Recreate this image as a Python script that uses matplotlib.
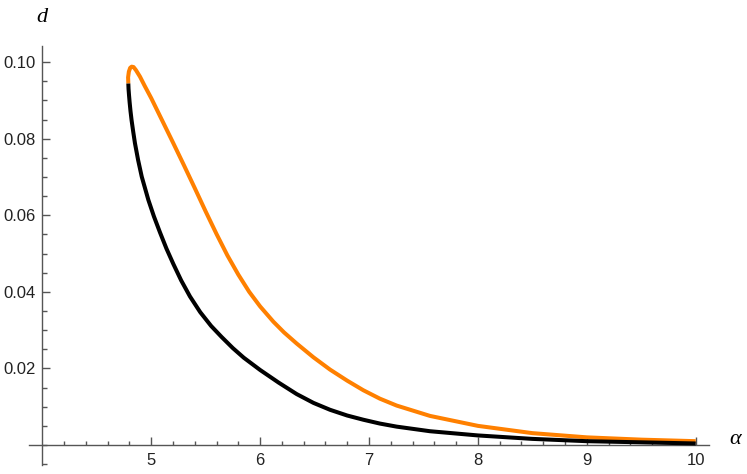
import numpy as np
import matplotlib.pyplot as plt
from matplotlib.ticker import FixedLocator

# points
alpha_black = [4.79, 4.792, 4.796, 4.802, 4.81, 4.82, 4.835, 4.851, 4.88, 4.913, 4.974,
               5.025, 5.081, 5.14, 5.203, 5.275, 5.356, 5.45, 5.55, 5.647, 5.75, 5.85,
               6.0, 6.17, 6.336, 6.49, 6.642, 6.8, 6.948, 7.1, 7.254, 7.56, 8.0, 8.5,
               9.0, 9.5, 10.0]
d_black = [0.0944, 0.0930, 0.0915, 0.0895, 0.0872, 0.0848, 0.0818, 0.0788, 0.0744, 0.0701,
           0.0640, 0.0597, 0.0555, 0.0513, 0.0473, 0.0430, 0.0388, 0.0347, 0.0311, 0.0282,
           0.0253, 0.0228, 0.0196, 0.0163, 0.0133, 0.0110, 0.0092, 0.0077, 0.0066, 0.0056,
           0.0048, 0.0036, 0.0025, 0.0016, 0.0010, 0.0007, 0.0004]

alpha_orange = [4.79, 4.788, 4.795, 4.807, 4.821, 4.838, 4.86, 4.897, 4.94, 5.0, 5.1,
                5.2, 5.3, 5.4, 5.5, 5.6, 5.7, 5.8, 5.9, 6.0, 6.122, 6.22, 6.336, 6.49,
                6.642, 6.8, 6.948, 7.1, 7.254, 7.56, 8.0, 8.5, 9.0, 9.5, 10.0]
d_orange = [0.0944, 0.0960, 0.0975, 0.0985, 0.0988, 0.0987, 0.0979, 0.0962, 0.0938, 0.0906,
            0.0848, 0.0790, 0.0731, 0.0671, 0.0610, 0.0551, 0.0495, 0.0445, 0.0400, 0.0362,
            0.0322, 0.0294, 0.0265, 0.0229, 0.0197, 0.0168, 0.0143, 0.0121, 0.0103, 0.0076,
            0.0050, 0.0031, 0.0020, 0.0014, 0.0010]

x_major = [5, 6, 7, 8, 9, 10]
y_major = [0.02, 0.04, 0.06, 0.08, 0.10]
y_labels = ["0.02", "0.04", "0.06", "0.08", "0.10"]

fig = plt.figure(figsize=(7.47, 4.74), dpi=100)
ax = fig.add_axes([29 / 747, 9 / 474, 680 / 747, 419 / 474])

ax.plot(alpha_orange, d_orange, color="#ff8000", lw=2.9, solid_capstyle="butt",
        solid_joinstyle="round", zorder=3)
ax.plot(alpha_black, d_black, color="black", lw=2.9, solid_capstyle="butt",
        solid_joinstyle="round", zorder=3)

ax.set_xlim(3.878, 10.122)
ax.set_ylim(-0.00522, 0.1042)

for s in ["top", "right"]:
    ax.spines[s].set_visible(False)
ax.spines["left"].set_position(("data", 4.0))
ax.spines["bottom"].set_position(("data", 0.0))
for s in ["left", "bottom"]:
    ax.spines[s].set_color("#555555")
    ax.spines[s].set_linewidth(1.0)

ax.xaxis.set_major_locator(FixedLocator(x_major))
ax.xaxis.set_minor_locator(FixedLocator(np.arange(4.2, 10.05, 0.2)))
ax.set_xticklabels([str(v) for v in x_major])
ax.yaxis.set_major_locator(FixedLocator(y_major))
ax.yaxis.set_minor_locator(FixedLocator(np.arange(-0.005, 0.1001, 0.005)))
ax.set_yticklabels(y_labels)

ax.tick_params(which="both", direction="in", color="#555555", width=1.0,
               labelsize=12, labelcolor="#222222")
ax.tick_params(axis="x", which="major", length=5.5, pad=6)
ax.tick_params(axis="x", which="minor", length=3.1)
ax.tick_params(axis="y", which="major", length=5.8, pad=5)
ax.tick_params(axis="y", which="minor", length=3.5)
for lab in ax.get_xticklabels() + ax.get_yticklabels():
    lab.set_fontfamily("Liberation Sans")

fig.text(42 / 747, 1 - 17 / 474, "d", fontsize=16, style="italic",
         family="Liberation Serif", ha="center", va="center")
fig.text(735 / 747, 1 - 440 / 474, "\u03b1", fontsize=16, style="italic",
         family="Liberation Serif", ha="center", va="center")

fig.savefig("out.png", dpi=100)
